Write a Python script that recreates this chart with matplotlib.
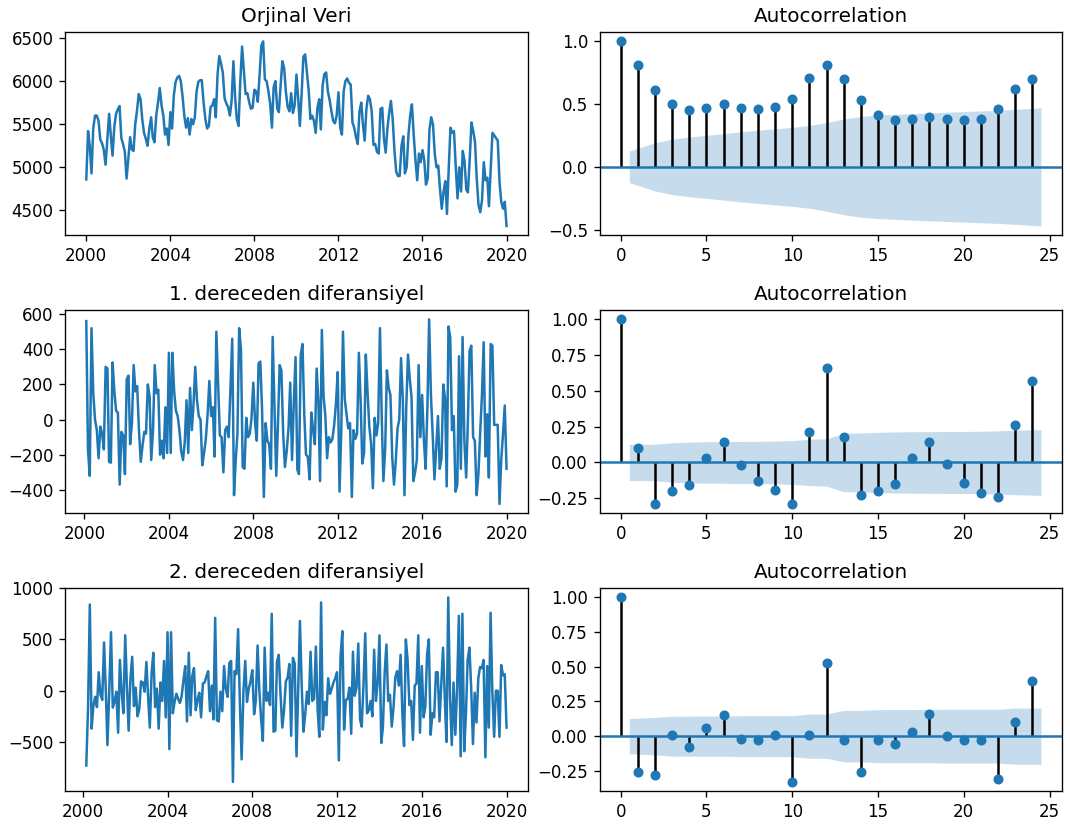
import numpy as np
import pandas as pd
import matplotlib
matplotlib.use("Agg")
import matplotlib.pyplot as plt

# monthly values, one row per year (Jan 2000 ... Jan 2020)
y2000 = [4860, 5420, 5250, 4930, 5450, 5600, 5600, 5540, 5320, 5280, 5200, 5030]
y2001 = [5330, 5620, 5380, 5135, 5460, 5620, 5670, 5710, 5340, 5270, 5180, 4870]
y2002 = [5100, 5350, 5210, 5190, 5500, 5660, 5850, 5790, 5550, 5400, 5330, 5250]
y2003 = [5450, 5580, 5350, 5290, 5600, 5750, 5920, 5720, 5600, 5380, 5450, 5260]
y2004 = [5640, 5450, 5830, 5990, 6040, 6060, 6000, 5820, 5590, 5460, 5570, 5380]
y2005 = [5560, 5500, 5580, 5880, 5990, 6010, 6010, 5750, 5560, 5450, 5480, 5700]
y2006 = [5720, 5790, 5580, 6080, 6290, 6200, 6100, 5800, 5740, 5700, 5600, 5770]
y2007 = [6230, 5800, 5560, 5480, 6000, 6400, 6130, 5850, 5860, 5760, 5680, 5690]
y2008 = [5900, 5880, 5760, 6080, 6410, 6460, 6020, 6000, 5880, 5740, 5460, 5930]
y2009 = [6000, 5680, 5640, 5950, 6230, 6150, 5880, 5700, 5650, 5860, 5630, 5720]
y2010 = [6075, 5790, 5480, 5850, 6280, 6310, 6110, 5900, 5560, 5600, 5540, 5400]
y2011 = [5690, 5790, 5440, 5950, 6080, 6100, 5880, 5780, 5650, 5540, 5510, 5600]
y2012 = [5870, 5460, 5380, 5880, 6000, 6030, 5980, 5960, 5520, 5460, 5350, 5270]
y2013 = [5650, 5750, 5500, 5310, 5680, 5830, 5790, 5650, 5260, 5270, 5180, 5160]
y2014 = [5680, 5690, 5340, 5170, 5450, 5630, 5770, 5560, 5190, 4950, 4900, 4900]
y2015 = [5250, 5360, 4930, 5000, 5370, 5600, 5730, 5380, 5080, 4850, 5160, 5060]
y2016 = [5200, 5080, 4800, 4870, 5440, 5580, 5500, 5160, 5000, 5020, 4740, 4520]
y2017 = [4720, 4840, 4460, 4990, 5460, 5400, 5420, 5010, 4640, 5000, 4720, 5190]
y2018 = [5070, 4740, 4710, 5100, 5520, 5420, 5300, 4870, 4560, 4480, 4620, 5060]
y2019 = [4850, 4880, 4550, 4980, 5400, 5370, 5340, 5310, 4830, 4600, 4520, 4600]
y2020 = [4320]

# autocorrelations, lags 0..24
acf_orig = [1.00, 0.81, 0.61, 0.50, 0.45, 0.47, 0.50, 0.47, 0.46, 0.48, 0.54, 0.71, 0.81,
            0.70, 0.53, 0.41, 0.37, 0.38, 0.40, 0.38, 0.37, 0.38, 0.46, 0.62, 0.70]
acf_diff1 = [1.00, 0.10, -0.29, -0.20, -0.16, 0.03, 0.14, -0.02, -0.13, -0.19, -0.29, 0.21, 0.66,
             0.18, -0.23, -0.20, -0.15, 0.03, 0.14, -0.01, -0.14, -0.21, -0.24, 0.26, 0.57]
acf_diff2 = [1.00, -0.26, -0.28, 0.01, -0.08, 0.06, 0.15, -0.02, -0.03, 0.01, -0.33, 0.01, 0.53,
             -0.03, -0.26, -0.03, -0.06, 0.03, 0.16, 0.00, -0.03, -0.03, -0.31, 0.10, 0.40]

values = np.array(y2000 + y2001 + y2002 + y2003 + y2004 + y2005 + y2006 + y2007 + y2008
                  + y2009 + y2010 + y2011 + y2012 + y2013 + y2014 + y2015 + y2016 + y2017
                  + y2018 + y2019 + y2020, dtype=float)
dates = pd.date_range("2000-01-01", periods=len(values), freq="MS").to_pydatetime()

diff1 = np.diff(values)
diff2 = np.diff(diff1)


def plot_acf(ax, acf, nobs):
    acf = np.asarray(acf)
    lags = np.arange(len(acf))
    # Bartlett confidence band, 95%
    var = np.ones(len(acf)) / nobs
    var[0] = 0
    var[2:] *= 1 + 2 * np.cumsum(acf[1:-1] ** 2)
    half = 1.96 * np.sqrt(var)

    ax.vlines(lags, [0], acf, colors="k")
    ax.axhline(0, color="C0")
    ax.margins(0.05)
    ax.plot(lags, acf, marker="o", markersize=5, linestyle="None", color="C0")
    ax.set_title("Autocorrelation")

    band_x = lags[1:].astype(float)
    band_x[0] -= 0.5
    band_x[-1] += 0.5
    ax.fill_between(band_x, -half[1:], half[1:], alpha=0.25, color="C0", linewidth=0)


DPI = 120
fig, axes = plt.subplots(3, 2, figsize=(1070 / DPI, 825 / DPI), dpi=DPI)
fig.subplots_adjust(left=0.061, right=0.9925, bottom=0.041, top=0.961,
                    wspace=0.156, hspace=0.369)

axes[0, 0].plot(dates, values)
axes[0, 0].set_title("Orjinal Veri")
plot_acf(axes[0, 1], acf_orig, len(values))

axes[1, 0].plot(dates[1:], diff1)
axes[1, 0].set_title("1. dereceden diferansiyel")
plot_acf(axes[1, 1], acf_diff1, len(diff1))

axes[2, 0].plot(dates[2:], diff2)
axes[2, 0].set_title("2. dereceden diferansiyel")
plot_acf(axes[2, 1], acf_diff2, len(diff2))

fig.savefig("out.png", dpi=DPI)
